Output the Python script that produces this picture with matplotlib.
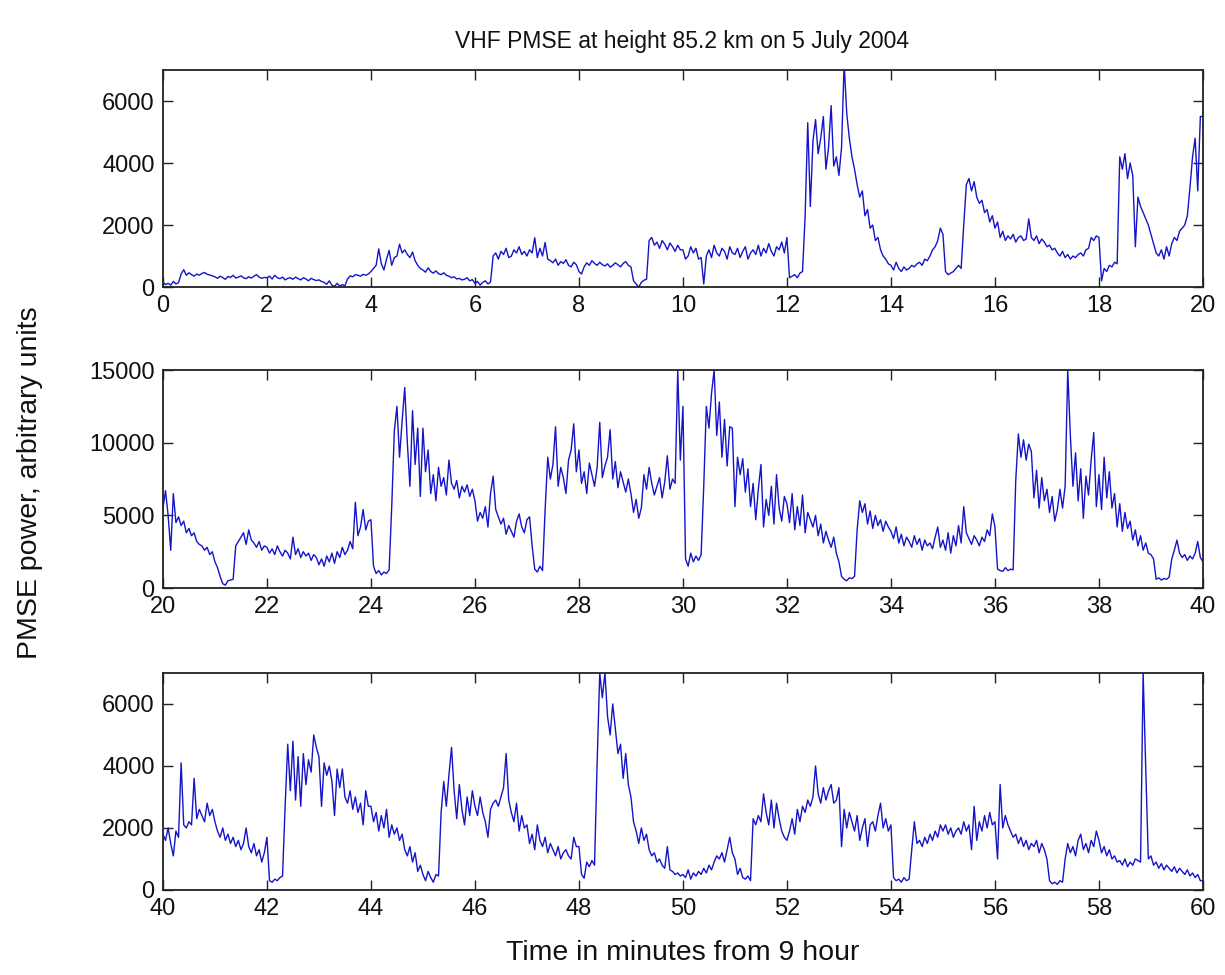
import numpy as np
import matplotlib.pyplot as plt
import matplotlib as mpl

mpl.rcParams['font.family'] = ['Liberation Sans', 'DejaVu Sans']
mpl.rcParams['xtick.direction'] = 'in'
mpl.rcParams['ytick.direction'] = 'in'

# PMSE power, one sample every 0.05 min (3 s), one row per minute
dt = 0.05

power_00_20 = [
    150, 80, 120, 60, 180, 100, 140, 420, 560, 380, 460, 400, 350, 420, 380, 440, 470, 410, 390, 360,
    330, 280, 350, 300, 250, 340, 310, 380, 290, 320, 360, 300, 270, 330, 290, 350, 400, 320, 280, 310,
    300, 350, 260, 380, 300, 270, 320, 230, 280, 300, 250, 320, 270, 230, 300, 260, 200, 280, 240, 210,
    230, 180, 150, 90, 200, 60, 20, 120, 30, 80, 40, 260, 360, 330, 400, 380, 350, 410, 380, 420,
    500, 600, 700, 1230, 750, 550, 900, 1180, 700, 950, 1000, 1380, 1100, 1200, 1050, 950, 1130, 850, 700, 600,
    550, 480, 620, 500, 450, 520, 430, 400, 460, 380, 350, 300, 330, 260, 280, 230, 250, 300, 200, 240,
    120, 180, 60, 150, 200, 100, 160, 1000, 1100, 900, 1150, 1050, 1250, 950, 1000, 1200, 1100, 1300, 1050, 1150,
    1000, 1200, 1100, 1590, 950, 1250, 1000, 1440, 900, 850, 780, 900, 700, 820, 760, 880, 700, 650, 800, 720,
    500, 420, 650, 780, 700, 850, 760, 700, 800, 720, 680, 750, 640, 700, 780, 720, 650, 760, 820, 700,
    650, 200, 100, 0, 150, 220, 250, 1500, 1600, 1350, 1450, 1250, 1500, 1380, 1200, 1420, 1300, 1150, 1350, 1200,
    1200, 900, 1000, 1300, 1100, 1250, 900, 950, 100, 1000, 1200, 950, 1350, 1100, 1000, 1250, 1150, 900, 1300, 1100,
    1050, 1250, 950, 1150, 1300, 900, 1100, 1200, 1050, 1350, 1000, 1250, 1100, 1400, 1150, 1000, 1300, 1200, 1450, 1100,
    1600, 300, 350, 400, 300, 450, 500, 2300, 5300, 2600, 4700, 5400, 4300, 4800, 5500, 3800, 4500, 5850, 3900, 4200,
    3600, 4500, 7200, 5600, 4800, 4200, 3800, 3300, 2900, 3100, 2300, 2500, 1900, 2000, 1500, 1600, 1200, 1000, 900, 750,
    700, 550, 800, 600, 500, 650, 550, 600, 700, 650, 750, 800, 700, 900, 850, 1000, 1200, 1300, 1500, 1900,
    1700, 500, 400, 450, 500, 600, 700, 600, 2000, 3300, 3500, 3100, 3400, 2900, 2700, 2800, 2400, 2500, 2100, 2300,
    1900, 2100, 1600, 1800, 1500, 1650, 1550, 1700, 1450, 1600, 1650, 1500, 1550, 2200, 1600, 1500, 1650, 1400, 1550, 1450,
    1300, 1350, 1200, 1250, 1100, 1000, 1150, 950, 1050, 900, 1000, 950, 1050, 1100, 1000, 1200, 1250, 1600, 1500, 1650,
    1600, 200, 600, 500, 700, 650, 800, 750, 4200, 3800, 4300, 3500, 4000, 3600, 1300, 2900, 2600, 2400, 2200, 2000,
    1700, 1400, 1100, 1000, 1200, 900, 1300, 1000, 1400, 1600, 1500, 1800, 1900, 2000, 2300, 3200, 4200, 4800, 3100, 5500,
]

power_20_40 = [
    5500, 6700, 5000, 2600, 6500, 4500, 4900, 4300, 4600, 3800, 4100, 3600, 3800, 3200, 3000, 2900, 2600, 2800, 2300, 2500,
    1800, 1400, 800, 300, 200, 500, 550, 600, 2900, 3200, 3500, 3800, 3000, 4000, 3300, 3100, 2800, 3200, 2600, 2900,
    2800, 2400, 2700, 2300, 2900, 2500, 2200, 2600, 2400, 2000, 3500, 2300, 2700, 2100, 2500, 2200, 2400, 1900, 2300, 2100,
    1600, 2000, 1500, 2200, 1800, 2400, 1700, 2500, 2100, 2800, 2300, 2600, 3200, 2700, 5900, 3600, 4200, 5400, 4000, 4600,
    4700, 1500, 1000, 1200, 900, 1100, 1000, 1250, 5600, 10800, 12500, 9000, 11500, 13800, 10000, 7000, 12200, 8500, 11000, 6300,
    11000, 8000, 9500, 6500, 7800, 6000, 8300, 7000, 7600, 6400, 8800, 7200, 6800, 7400, 6200, 7000, 6600, 7100, 6300, 6800,
    6000, 4600, 5200, 4800, 5600, 4200, 6500, 7700, 5400, 4900, 4400, 4800, 3700, 4300, 3900, 3500, 4600, 5100, 4200, 3800,
    4700, 4900, 2900, 1300, 1100, 1500, 1200, 5400, 9000, 7500, 8500, 11100, 7000, 8300, 7600, 6500, 8800, 9500, 11300, 8000,
    9500, 7200, 8000, 6500, 8600, 7800, 7000, 8300, 11400, 7600, 8400, 9000, 10900, 7500, 8700, 6900, 8000, 7300, 6600, 7500,
    6500, 5200, 6100, 4800, 5500, 7800, 6800, 8300, 7200, 6400, 7000, 7600, 6200, 7300, 9100, 6800, 7500, 7200, 15000, 8800,
    12500, 2000, 1500, 2400, 1800, 2200, 1900, 2300, 7000, 12500, 11000, 13400, 15000, 10500, 12800, 9000, 11600, 8400, 11100, 11000,
    5600, 9000, 7800, 8900, 6600, 8200, 5600, 7200, 4700, 6800, 8500, 4200, 6100, 5000, 7000, 4400, 7800, 5500, 4600, 6300,
    5800, 4500, 6500, 4000, 5600, 4300, 6400, 3800, 5200, 4700, 4200, 5000, 3600, 4400, 3100, 3900, 3300, 2800, 3500, 2400,
    1800, 800, 600, 500, 700, 650, 800, 4000, 6000, 5200, 5800, 4400, 5300, 4100, 5000, 4300, 4700, 3900, 4600, 4200,
    3900, 3400, 4200, 3100, 3700, 2900, 3500, 3200, 2800, 3600, 3000, 3400, 2600, 3300, 2900, 3100, 2700, 3500, 4200, 2800,
    3300, 2600, 3800, 2400, 3600, 2900, 4300, 3100, 5600, 3800, 3400, 3000, 3600, 3300, 2900, 3500, 3200, 4000, 3600, 5100,
    4200, 1300, 1200, 1150, 1400, 1200, 1300, 1250, 7400, 10600, 9000, 10200, 8800, 9900, 9400, 6200, 8100, 5500, 7600, 6000,
    6800, 5200, 6300, 4600, 5400, 6800, 5500, 7000, 15000, 10500, 7000, 9300, 6000, 8200, 4800, 7700, 6400, 8800, 10700, 5600,
    7800, 5400, 9000, 6200, 8000, 5500, 6500, 4200, 5800, 3900, 5200, 4100, 4600, 3300, 4000, 2900, 3600, 2600, 3100, 2400,
    2300, 2000, 600, 700, 550, 650, 600, 750, 2000, 2600, 3300, 2400, 2100, 2300, 1900, 2200, 2000, 2400, 3200, 2100,
]

power_40_60 = [
    1800, 1600, 2000, 1500, 1100, 1900, 1700, 4100, 2100, 2000, 2200, 2100, 3600, 2300, 2600, 2400, 2200, 2800, 2400, 2600,
    2200, 1900, 1700, 2000, 1600, 1800, 1500, 1700, 1400, 1600, 1300, 1500, 2000, 1400, 1200, 1500, 1100, 1300, 900, 1200,
    1700, 300, 250, 350, 300, 400, 450, 2700, 4700, 3200, 4800, 2900, 4300, 2700, 4400, 3400, 4200, 3800, 5000, 4600,
    4300, 2700, 4100, 3700, 4000, 3500, 2400, 3900, 3300, 3900, 3000, 2800, 3200, 2600, 3000, 2500, 2800, 2100, 3200, 2700,
    2700, 2200, 2500, 1900, 2400, 2000, 2600, 1700, 2100, 1800, 2000, 1600, 1800, 1300, 1100, 1400, 900, 1200, 600, 800,
    500, 300, 600, 400, 250, 500, 450, 2500, 3500, 2700, 3700, 4600, 3200, 2300, 3400, 2600, 2100, 3000, 2400, 3200,
    2700, 2400, 3000, 2500, 2200, 1700, 2600, 2800, 2900, 2700, 3000, 3300, 4400, 2900, 2500, 2200, 2800, 1900, 2400, 2000,
    2100, 1500, 1800, 1300, 2100, 1600, 1400, 1700, 1200, 1500, 1300, 1100, 1400, 1000, 1200, 1300, 1100, 1000, 1700, 1400,
    1400, 500, 380, 900, 750, 950, 800, 4100, 7000, 6200, 7000, 5600, 5000, 6000, 5200, 4400, 4700, 3600, 4400, 3400,
    3000, 2200, 1900, 1500, 2000, 1600, 1800, 1300, 1100, 1200, 900, 1000, 800, 700, 1400, 650, 600, 500, 550, 450,
    500, 400, 650, 350, 550, 450, 600, 500, 700, 550, 800, 650, 900, 1100, 1000, 1200, 900, 1300, 1700, 1200,
    1000, 500, 700, 400, 350, 450, 300, 2300, 2100, 2400, 2200, 3100, 2500, 2100, 2900, 2000, 2800, 2300, 1900, 1700,
    1600, 1900, 2300, 1800, 2600, 2200, 2700, 2500, 2900, 2700, 3000, 4000, 3100, 2800, 3300, 2900, 3200, 3400, 2800, 2900,
    3300, 1400, 2600, 2000, 2500, 2200, 1900, 2400, 1600, 2000, 2300, 1400, 2100, 2200, 1900, 2400, 2800, 2000, 2300, 1900,
    2100, 400, 300, 350, 250, 400, 300, 350, 1300, 2200, 1500, 1600, 1400, 1700, 1500, 1800, 1600, 1900, 1700, 2100,
    1900, 2100, 1800, 2000, 1700, 1900, 2000, 1800, 2200, 1900, 2100, 1300, 2700, 1600, 2200, 1900, 2400, 2000, 2500, 2100,
    2200, 1000, 3400, 2000, 2400, 2100, 1900, 1700, 1800, 1500, 1700, 1400, 1600, 1300, 1500, 1400, 1600, 1200, 1500, 1300,
    1000, 300, 200, 250, 180, 300, 250, 1000, 1500, 1200, 1400, 1100, 1600, 1800, 1300, 1500, 1200, 1600, 1400, 1900,
    1600, 1200, 1400, 1100, 1300, 1000, 1100, 900, 950, 800, 1000, 750, 900, 800, 1000, 950, 900, 7000, 3900, 1000,
    1100, 800, 900, 700, 850, 650, 800, 700, 600, 750, 550, 700, 600, 500, 650, 450, 550, 400, 500, 300,
    300,
]

panel_xlim = [(0, 20), (20, 40), (40, 60)]
panel_ylim = [7000, 15000, 7000]
panel_yticks = [[0, 2000, 4000, 6000], [0, 5000, 10000, 15000], [0, 2000, 4000, 6000]]

power = np.array(power_00_20 + power_20_40 + power_40_60, dtype=float)
t = np.arange(len(power)) * dt

fig = plt.figure(figsize=(12.25, 9.75), dpi=100)
boxes = [[0.133, 0.7056, 0.849, 0.2226],
         [0.133, 0.3969, 0.849, 0.2236],
         [0.133, 0.0872, 0.849, 0.2226]]

for i, box in enumerate(boxes):
    ax = fig.add_axes(box)
    ax.plot(t, power, color='#1414c8', lw=1.0)
    ax.set_xlim(*panel_xlim[i])
    ax.set_ylim(0, panel_ylim[i])
    ax.set_xticks(np.arange(panel_xlim[i][0], panel_xlim[i][1] + 1, 2))
    ax.set_yticks(panel_yticks[i])
    ax.tick_params(axis='both', which='both', top=True, right=True, length=7,
                   width=1.0, labelsize=17, colors='#222222', labelcolor='#111111')
    ax.tick_params(axis='x', pad=6)
    ax.tick_params(axis='y', pad=6)
    for s in ax.spines.values():
        s.set_linewidth(1.3)
        s.set_color('#222222')

fig.text(0.557, 0.957, 'VHF PMSE at height 85.2 km on 5 July 2004', ha='center', va='center',
         fontsize=16.5, color='#111111')
fig.text(0.557, 0.023, 'Time in minutes from 9 hour', ha='center', va='center',
         fontsize=20.5, color='#111111')
fig.text(0.0245, 0.505, 'PMSE power, arbitrary units', ha='center', va='center',
         rotation=90, fontsize=20.5, color='#111111')

plt.savefig('out.png', dpi=100)
